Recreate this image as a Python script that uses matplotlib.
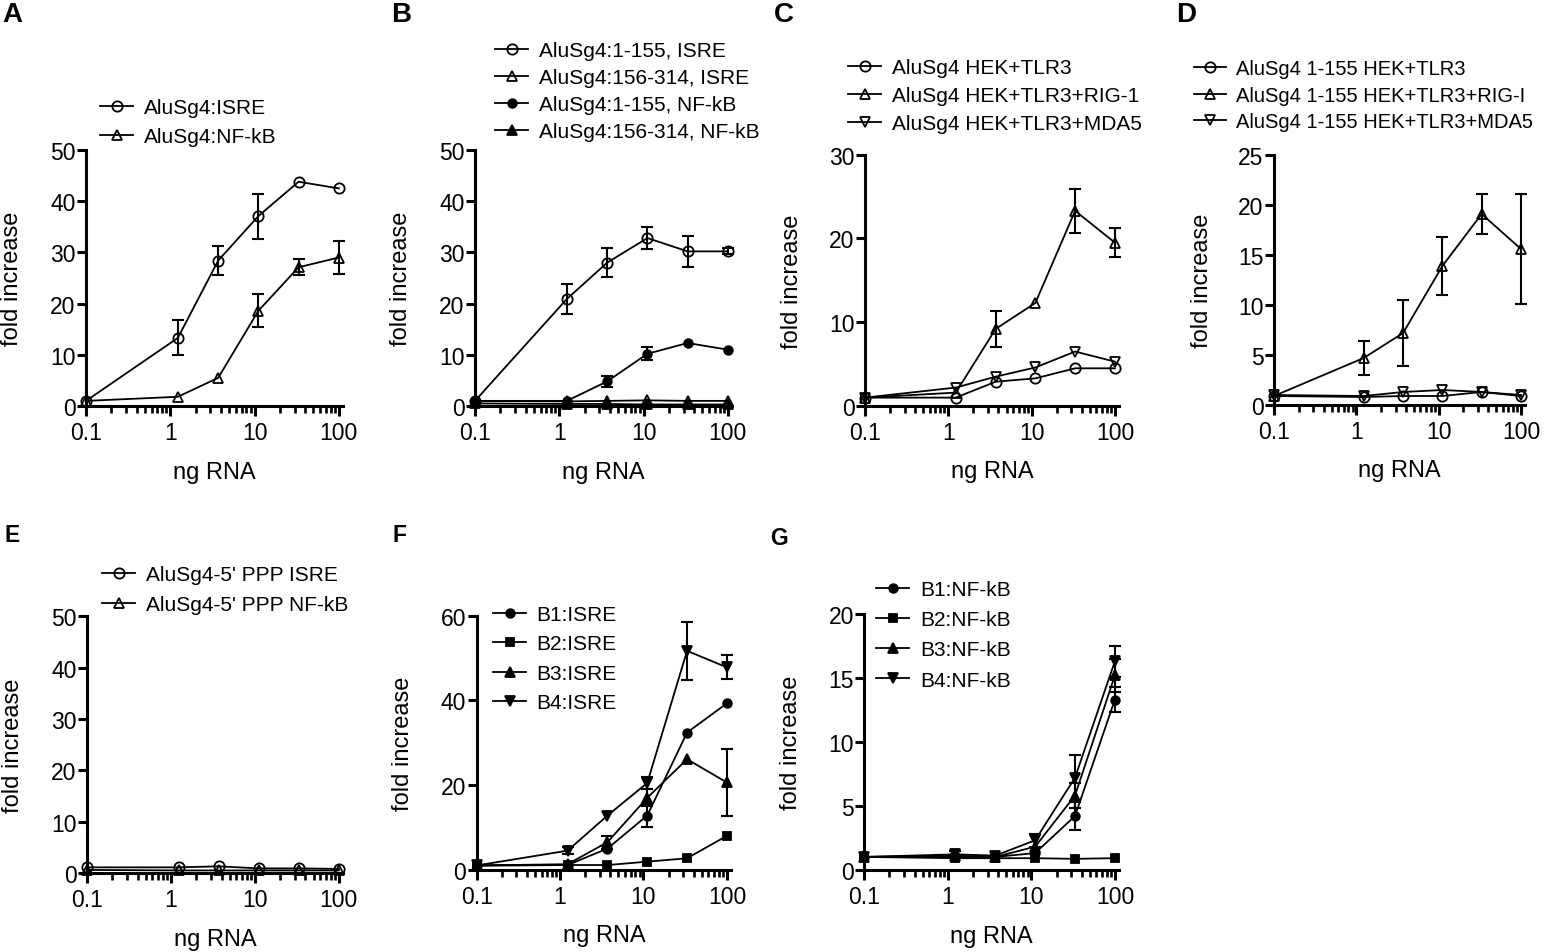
import numpy as np
import matplotlib
matplotlib.use("Agg")
import matplotlib.pyplot as plt
from matplotlib.ticker import FixedLocator, NullFormatter, FixedFormatter
from matplotlib.lines import Line2D

plt.rcParams['font.family'] = ['Liberation Sans', 'DejaVu Sans']

# ---------------- data ----------------
x_ng = [0.1, 1.23, 3.7, 11.1, 33.3, 100]
x_tick_vals = [0.1, 1, 10, 100]
x_tick_labels = ['0.1', '1', '10', '100']

# Panel A
A_labels = ['AluSg4:ISRE', 'AluSg4:NF-kB']
A_isre = [1.0, 13.3, 28.4, 37.1, 43.8, 42.5]
A_isre_err = [0, 3.4, 2.8, 4.4, 0, 0]
A_nfkb = [1.0, 1.8, 5.5, 18.6, 27.1, 29.0]
A_nfkb_err = [0, 0, 0, 3.2, 1.6, 3.2]
A_yticks = [0, 10, 20, 30, 40, 50]

# Panel B
B_labels = ['AluSg4:1-155, ISRE', 'AluSg4:156-314, ISRE',
            'AluSg4:1-155, NF-kB', 'AluSg4:156-314, NF-kB']
B_isre_1_155 = [1.0, 20.9, 28.0, 32.8, 30.2, 30.2]
B_isre_1_155_err = [0, 2.9, 2.9, 2.2, 3.0, 0.6]
B_isre_156_314 = [1.0, 0.9, 1.0, 1.1, 1.0, 1.0]
B_isre_156_314_err = [0, 0, 0, 0, 0, 0]
B_nfkb_1_155 = [1.0, 1.0, 4.8, 10.2, 12.3, 11.0]
B_nfkb_1_155_err = [0, 0, 1.0, 1.3, 0, 0]
B_nfkb_156_314 = [0.5, 0.4, 0.4, 0.3, 0.3, 0.3]
B_nfkb_156_314_err = [0, 0, 0, 0, 0, 0]
B_yticks = [0, 10, 20, 30, 40, 50]

# Panel C
C_labels = ['AluSg4 HEK+TLR3', 'AluSg4 HEK+TLR3+RIG-1', 'AluSg4 HEK+TLR3+MDA5']
C_tlr3 = [1.0, 1.0, 2.9, 3.3, 4.5, 4.5]
C_tlr3_err = [0, 0, 0, 0, 0, 0]
C_rig1 = [1.0, 1.6, 9.2, 12.3, 23.3, 19.5]
C_rig1_err = [0, 0, 2.2, 0, 2.6, 1.7]
C_mda5 = [1.0, 2.2, 3.5, 4.6, 6.5, 5.3]
C_mda5_err = [0, 0, 0, 0, 0, 0]
C_yticks = [0, 10, 20, 30]

# Panel D
D_labels = ['AluSg4 1-155 HEK+TLR3', 'AluSg4 1-155 HEK+TLR3+RIG-I',
            'AluSg4 1-155 HEK+TLR3+MDA5']
D_tlr3 = [0.9, 0.8, 0.9, 0.9, 1.3, 0.9]
D_tlr3_err = [0, 0, 0, 0, 0, 0]
D_rigi = [0.9, 4.7, 7.2, 13.9, 19.1, 15.6]
D_rigi_err = [0, 1.7, 3.3, 2.9, 2.0, 5.5]
D_mda5 = [1.0, 0.9, 1.3, 1.5, 1.3, 1.0]
D_mda5_err = [0, 0, 0, 0, 0, 0]
D_yticks = [0, 5, 10, 15, 20, 25]

# Panel E
E_labels = ["AluSg4-5' PPP ISRE", "AluSg4-5' PPP NF-kB"]
E_isre = [1.1, 1.1, 1.3, 0.9, 0.9, 0.8]
E_isre_err = [0, 0, 0, 0, 0, 0]
E_nfkb = [0.6, 0.5, 0.5, 0.5, 0.5, 0.5]
E_nfkb_err = [0, 0, 0, 0, 0, 0]
E_yticks = [0, 10, 20, 30, 40, 50]

# Panel F
F_labels = ['B1:ISRE', 'B2:ISRE', 'B3:ISRE', 'B4:ISRE']
F_b1 = [1.0, 1.1, 5.0, 12.8, 32.4, 39.3]
F_b1_err = [0, 0, 0, 2.8, 0, 0]
F_b2 = [1.0, 1.1, 1.1, 1.9, 2.7, 8.0]
F_b2_err = [0, 0, 0, 0, 0, 0]
F_b3 = [1.0, 1.3, 6.5, 17.0, 26.1, 20.6]
F_b3_err = [0, 0, 1.5, 2.0, 0, 7.8]
F_b4 = [1.0, 4.5, 12.8, 20.5, 51.7, 47.8]
F_b4_err = [0, 0.8, 0, 1.5, 6.8, 2.8]
F_yticks = [0, 20, 40, 60]

# Panel G
G_labels = ['B1:NF-kB', 'B2:NF-kB', 'B3:NF-kB', 'B4:NF-kB']
G_b1 = [1.0, 1.0, 1.0, 1.3, 4.2, 13.3]
G_b1_err = [0, 0, 0, 0, 1.1, 1.0]
G_b2 = [1.0, 0.9, 0.9, 0.9, 0.85, 0.9]
G_b2_err = [0, 0, 0, 0, 0, 0]
G_b3 = [1.0, 1.1, 1.0, 1.8, 5.8, 15.2]
G_b3_err = [0, 0, 0, 0, 1.0, 1.3]
G_b4 = [1.0, 1.2, 1.1, 2.3, 7.2, 16.3]
G_b4_err = [0, 0.3, 0, 0.5, 1.8, 1.2]
G_yticks = [0, 5, 10, 15, 20]

# ---------------- figure ----------------
W, H = 1546, 953
fig = plt.figure(figsize=(W / 100, H / 100), dpi=100)

AX_LW = 2.2
LINE_LW = 1.3


def add_ax(x0, x1, ytop, ybot):
    return fig.add_axes([x0 / W, 1 - ybot / H, (x1 - x0) / W, (ybot - ytop) / H])


def style(ax, yticks):
    ax.set_xscale('log')
    ax.set_xlim(0.1, 112)
    ax.set_ylim(0, yticks[-1])
    for s in ['top', 'right']:
        ax.spines[s].set_visible(False)
    for s in ['left', 'bottom']:
        ax.spines[s].set_linewidth(AX_LW)
    ax.xaxis.set_major_locator(FixedLocator(x_tick_vals))
    ax.xaxis.set_major_formatter(FixedFormatter(x_tick_labels))
    minors = [m * d for d in [0.1, 1, 10] for m in range(2, 10)]
    ax.xaxis.set_minor_locator(FixedLocator(minors))
    ax.xaxis.set_minor_formatter(NullFormatter())
    ax.set_yticks(yticks)
    ax.set_yticklabels([str(t) for t in yticks])
    ax.tick_params(axis='x', which='major', direction='out', length=7, width=AX_LW,
                   labelsize=16.5, pad=4)
    ax.tick_params(axis='x', which='minor', direction='out', length=5, width=1.9)
    ax.tick_params(axis='y', which='major', direction='out', length=6.5, width=AX_LW,
                   labelsize=16.5, pad=1)
    ax.set_ylabel('fold increase', fontsize=17)
    ax.yaxis.set_label_coords(-0.245, 0.5)
    ax.set_xlabel('ng RNA', fontsize=17)
    ax.xaxis.set_label_coords(0.5, -0.215)


MARKERS = {
    'open_o': dict(marker='o', ms=7.4, mfc='none'),
    'open_^': dict(marker='^', ms=7.6, mfc='none'),
    'open_v': dict(marker='v', ms=7.6, mfc='none'),
    'fill_o': dict(marker='o', ms=6.2, mfc='black'),
    'fill_s': dict(marker='s', ms=6.2, mfc='black'),
    'fill_^': dict(marker='^', ms=6.8, mfc='black'),
    'fill_v': dict(marker='v', ms=6.8, mfc='black'),
}


def plot_series(ax, y, err, mk):
    kw = MARKERS[mk]
    ax.plot(x_ng, y, color='black', lw=LINE_LW, mec='black', mew=1.3,
            clip_on=False, zorder=4, **kw)
    xe = [x for x, e in zip(x_ng, err) if e > 0]
    ye = [v for v, e in zip(y, err) if e > 0]
    ee = [e for e in err if e > 0]
    if xe:
        ax.errorbar(xe, ye, yerr=ee, fmt='none', ecolor='black', elinewidth=1.5,
                    capsize=4.6, capthick=1.5, clip_on=False, zorder=3)


def legend(ax, labels, mks, x_px, y_px, spacing, size=15):
    handles = [Line2D([0], [0], color='black', lw=LINE_LW, mec='black', mew=1.3,
                      **MARKERS[m]) for m in mks]
    ax.legend(handles, labels, loc='upper left',
              bbox_to_anchor=(x_px / W, 1 - y_px / H),
              bbox_transform=fig.transFigure, frameon=False, borderpad=0,
              borderaxespad=0, handlelength=1.6, handletextpad=0.5,
              labelspacing=spacing, fontsize=size, numpoints=1)


def letter(x_px, y_px, s, size):
    fig.text(x_px / W, 1 - y_px / H, s, fontsize=size, fontweight='bold',
             ha='left', va='top')


# Panel A
axA = add_ax(86, 343, 151, 407)
style(axA, A_yticks)
plot_series(axA, A_isre, A_isre_err, 'open_o')
plot_series(axA, A_nfkb, A_nfkb_err, 'open_^')
legend(axA, A_labels, ['open_o', 'open_^'], 100, 99, 0.5)
letter(2, 2, 'A', 20)

# Panel B
axB = add_ax(475, 732, 151, 407)
style(axB, B_yticks)
plot_series(axB, B_isre_1_155, B_isre_1_155_err, 'open_o')
plot_series(axB, B_isre_156_314, B_isre_156_314_err, 'open_^')
plot_series(axB, B_nfkb_1_155, B_nfkb_1_155_err, 'fill_o')
plot_series(axB, B_nfkb_156_314, B_nfkb_156_314_err, 'fill_^')
legend(axB, B_labels, ['open_o', 'open_^', 'fill_o', 'fill_^'], 495, 42, 0.39)
letter(391, 2, 'B', 20)

# Panel C
axC = add_ax(865, 1119, 155.7, 407)
style(axC, C_yticks)
plot_series(axC, C_tlr3, C_tlr3_err, 'open_o')
plot_series(axC, C_rig1, C_rig1_err, 'open_^')
plot_series(axC, C_mda5, C_mda5_err, 'open_v')
legend(axC, C_labels, ['open_o', 'open_^', 'open_v'], 848, 59, 0.44)
letter(774, 2, 'C', 20)

# Panel D
axD = add_ax(1274, 1525, 156, 406)
style(axD, D_yticks)
plot_series(axD, D_tlr3, D_tlr3_err, 'open_o')
plot_series(axD, D_rigi, D_rigi_err, 'open_^')
plot_series(axD, D_mda5, D_mda5_err, 'open_v')
legend(axD, D_labels, ['open_o', 'open_^', 'open_v'], 1194, 60, 0.38, size=14.5)
letter(1176, 2, 'D', 20)

# Panel E
axE = add_ax(87, 343, 617.3, 874)
style(axE, E_yticks)
plot_series(axE, E_isre, E_isre_err, 'open_o')
plot_series(axE, E_nfkb, E_nfkb_err, 'open_^')
legend(axE, E_labels, ['open_o', 'open_^'], 102, 566, 0.54)
letter(4, 524, 'E', 16.5)

# Panel F
axF = add_ax(476.7, 731, 616.7, 870.7)
style(axF, F_yticks)
plot_series(axF, F_b1, F_b1_err, 'fill_o')
plot_series(axF, F_b2, F_b2_err, 'fill_s')
plot_series(axF, F_b3, F_b3_err, 'fill_^')
plot_series(axF, F_b4, F_b4_err, 'fill_v')
legend(axF, F_labels, ['fill_o', 'fill_s', 'fill_^', 'fill_v'], 493, 606, 0.5)
letter(392, 524, 'F', 16.5)

# Panel G
axG = add_ax(864.3, 1119, 615, 870.7)
style(axG, G_yticks)
plot_series(axG, G_b1, G_b1_err, 'fill_o')
plot_series(axG, G_b2, G_b2_err, 'fill_s')
plot_series(axG, G_b3, G_b3_err, 'fill_^')
plot_series(axG, G_b4, G_b4_err, 'fill_v')
legend(axG, G_labels, ['fill_o', 'fill_s', 'fill_^', 'fill_v'], 876, 581, 0.54)
letter(770, 527, 'G', 16.5)

fig.savefig('out.png', dpi=100)
